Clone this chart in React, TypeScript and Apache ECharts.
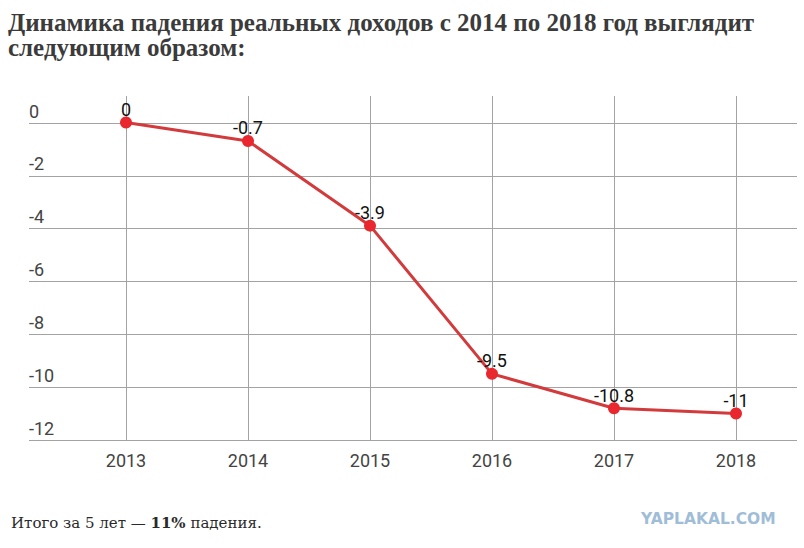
import * as echarts from "echarts";
import { useEffect, useRef } from "react";

const years = ["2013", "2014", "2015", "2016", "2017", "2018"];
const incomeChange = [0, -0.7, -3.9, -9.5, -10.8, -11];

const titleText =
  "Динамика падения реальных доходов с 2014 по 2018 год выглядит\nследующим образом:";

const App = () => {
  const chartRef = useRef(null);

  useEffect(() => {
    const chart = echarts.init(chartRef.current, null, { renderer: "svg" });

    const options = {
      animation: false,
      backgroundColor: "#ffffff",
      title: {
        text: titleText,
        left: 8,
        top: 10,
        padding: 0,
        textStyle: {
          fontFamily: "Liberation Serif",
          fontWeight: "bold",
          fontSize: 25,
          lineHeight: 25,
          color: "#3b3b3b",
        },
      },
      grid: [
        // horizontal gridlines, full width
        { left: 29, right: 7, top: 123, bottom: 108 },
        // category area with the line
        { left: 126, right: 68, top: 96, bottom: 108 },
      ],
      xAxis: [
        { type: "value", gridIndex: 0, show: false, min: 0, max: 1 },
        {
          type: "category",
          gridIndex: 1,
          data: years,
          boundaryGap: false,
          axisLine: { show: false },
          axisTick: { show: false },
          axisLabel: {
            margin: 11,
            fontFamily: "Roboto",
            fontSize: 18,
            color: "#444444",
          },
          splitLine: { show: true, lineStyle: { color: "#a3a3a3", width: 1 } },
        },
      ],
      yAxis: [
        {
          type: "value",
          gridIndex: 0,
          min: -12,
          max: 0,
          interval: 2,
          axisLine: { show: false },
          axisTick: { show: false },
          axisLabel: {
            inside: true,
            margin: 0,
            align: "left",
            verticalAlign: "bottom",
            padding: [0, 0, 3, 0],
            fontFamily: "Roboto",
            fontSize: 18,
            color: "#444444",
          },
          splitLine: { show: true, lineStyle: { color: "#a3a3a3", width: 1 } },
        },
        { type: "value", gridIndex: 1, min: -12, max: 1, show: false },
      ],
      series: [
        {
          type: "line",
          xAxisIndex: 1,
          yAxisIndex: 1,
          data: incomeChange,
          clip: false,
          symbol: "circle",
          symbolSize: 12,
          itemStyle: { color: "#e8282e" },
          lineStyle: { color: "#d23a3c", width: 3 },
          label: {
            show: true,
            position: "top",
            distance: -2,
            fontFamily: "Roboto",
            fontSize: 18,
            color: "#111111",
          },
        },
      ],
      graphic: [
        {
          type: "text",
          left: 11,
          top: 515,
          style: {
            text: "Итого за 5 лет — {b|11%} падения.",
            font: "15px 'DejaVu Serif'",
            fill: "#2a2a2a",
            rich: {
              b: {
                fontFamily: "DejaVu Serif",
                fontWeight: "bold",
                fontSize: 15,
                fill: "#2a2a2a",
              },
            },
          },
        },
        {
          type: "text",
          left: 641,
          top: 511,
          style: {
            text: "YAPLAKAL.COM",
            font: "bold 15.5px 'DejaVu Sans'",
            fill: "#9fbdd7",
          },
        },
      ],
    };

    chart.setOption(options);

    const handleResize = () => chart.resize();
    window.addEventListener("resize", handleResize);

    return () => {
      window.removeEventListener("resize", handleResize);
      chart.dispose();
    };
  }, []);

  return (
    <div
      ref={chartRef}
      style={{ position: "fixed", left: 0, top: 0, width: "804px", height: "548px" }}
    />
  );
};

export default App;
